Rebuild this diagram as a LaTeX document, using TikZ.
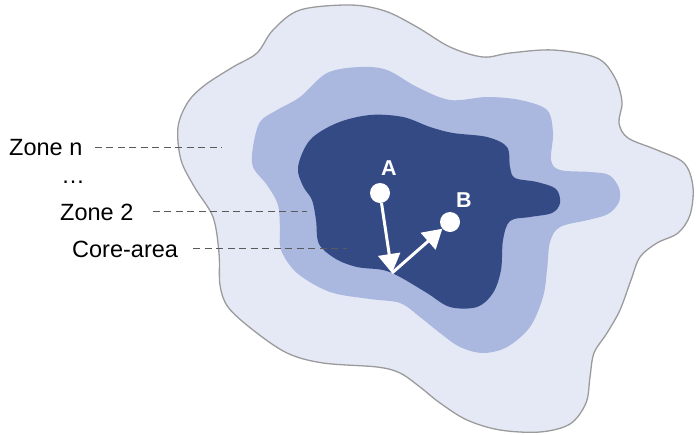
\documentclass[tikz,border=0pt]{standalone}
\usepackage{fontspec}
\setmainfont{Liberation Sans}
\usetikzlibrary{arrows.meta}
\definecolor{outerfill}{HTML}{E5E9F5}
\definecolor{outerline}{HTML}{9B9B9B}
\definecolor{midfill}{HTML}{AAB7DE}
\definecolor{corefill}{HTML}{344A85}
\definecolor{dashcol}{HTML}{5A5A5A}
\begin{document}
\begin{tikzpicture}[x=1pt,y=-1pt,
  zlab/.style={anchor=base west, inner sep=0pt, font=\fontsize{23.5}{28}\selectfont, text=black},
  dashline/.style={draw=dashcol, line width=1pt, dash pattern=on 7pt off 4.5pt},
  pt/.style={circle, fill=white, draw=none, minimum size=20pt, inner sep=0pt},
  ptlab/.style={text=white, inner sep=0pt, font=\fontsize{21.5}{25}\selectfont\bfseries},
  warrow/.style={draw=white, line width=3pt, -{Triangle[length=19pt,width=22pt]}}]
\useasboundingbox (0,0) rectangle (696,434);
% outer zone
\filldraw[fill=outerfill, draw=outerline, line width=1.3pt] plot[smooth cycle, tension=0.55] coordinates {
 (178,127) (188,102) (205,85) (233,67) (257,53) (273,30) (300,10) (350,5) (385,11) (417,27)
 (450,47) (483,57) (510,53) (553,50) (597,58) (615,78) (622,102) (619,123) (628,138) (657,150)
 (684,163) (693,187) (690,215) (678,233) (657,243) (640,257) (631,280) (620,310) (607,333)
 (594,353) (590,377) (586,403) (570,424) (540,432) (500,430) (467,420) (440,403) (420,387)
 (400,373) (377,367) (323,363) (287,353) (253,330) (228,307) (220,285) (219,253) (213,217)
 (195,188) (181,160)};
% zone 2
\fill[midfill] plot[smooth cycle, tension=0.55] coordinates {
 (253,147) (260,122) (277,110) (300,97) (327,73) (360,67) (387,70) (417,87) (450,100)
 (487,97) (520,100) (547,110) (553,133) (551,160) (560,170) (590,172) (609,175) (619,188)
 (619,202) (608,214) (588,220) (560,227) (550,242) (547,270) (543,297) (530,327) (507,347)
 (483,353) (460,347) (440,333) (420,317) (400,303) (370,299) (330,292) (297,273) (281,250)
 (280,230) (278,205) (267,185) (253,167)};
% core area
\fill[corefill] plot[smooth cycle, tension=0.55] coordinates {
 (298,167) (310,140) (337,123) (370,115) (403,117) (430,127) (453,133) (487,137) (507,147)
 (510,167) (515,178) (537,182) (556,189) (560,203) (552,213) (530,217) (510,221) (503,240)
 (501,270) (493,293) (477,307) (450,307) (427,293) (400,277) (383,270) (357,267) (336,259)
 (319,244) (316,220) (312,200) (303,186)};
% labels
\node[zlab] (zn) at (9,155) {Zone n};
\node[zlab, anchor=base] (dots) at (73,183) {…};
\node[zlab] (z2) at (60,220) {Zone 2};
\node[zlab] (ca) at (72,257) {Core-area};
\coordinate (znend) at (222,146);
\coordinate (z2end) at (307,207);
\coordinate (caend) at (347,244);
\draw[dashline] ([xshift=12pt]zn.east) -- (zn.east -| znend);
\draw[dashline] ([xshift=19pt]z2.east) -- (z2.east -| z2end);
\draw[dashline] ([xshift=15pt]ca.east) -- (ca.east -| caend);
% points
\node[pt] (A) at (380,193) {};
\node[pt] (B) at (450,222) {};
\node[ptlab] (Alab) at (389,168) {A};
\node[ptlab] (Blab) at (464,200) {B};
\coordinate (J) at (392,273);
\draw[warrow] (A) -- (J);
\draw[warrow] (J) -- (B);
\end{tikzpicture}
\end{document}
